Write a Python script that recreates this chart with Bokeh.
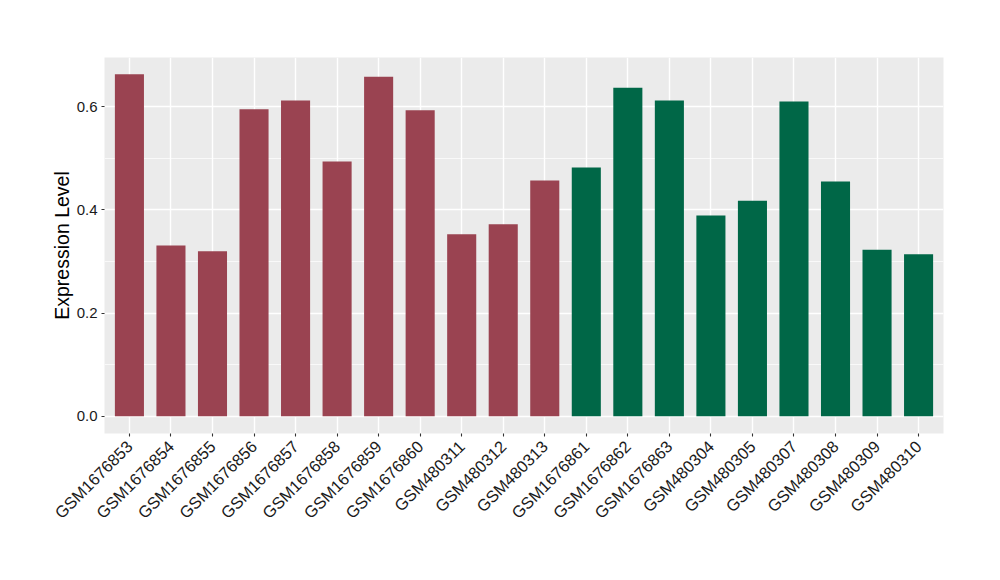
import math
from bokeh.plotting import figure
from bokeh.models import FactorRange, FixedTicker, ColumnDataSource, CustomJSTickFormatter
from bokeh.embed import file_html
from bokeh.resources import INLINE

samples = ["GSM1676853", "GSM1676854", "GSM1676855", "GSM1676856", "GSM1676857",
           "GSM1676858", "GSM1676859", "GSM1676860", "GSM480311", "GSM480312",
           "GSM480313", "GSM1676861", "GSM1676862", "GSM1676863", "GSM480304",
           "GSM480305", "GSM480307", "GSM480308", "GSM480309", "GSM480310"]
values = [0.663, 0.331, 0.320, 0.595, 0.612, 0.494, 0.658, 0.593, 0.353, 0.372,
          0.457, 0.482, 0.637, 0.612, 0.389, 0.418, 0.610, 0.455, 0.323, 0.314]
groups = ["A"] * 11 + ["B"] * 9
group_colors = {"A": "#9A4351", "B": "#006747"}
y_ticks = [0.0, 0.2, 0.4, 0.6]
y_minor = [0.1, 0.3, 0.5]

FONT = "Liberation Sans"

src = ColumnDataSource(dict(x=samples, top=values,
                            color=[group_colors[g] for g in groups]))

p = figure(width=992, height=572, output_backend="svg", toolbar_location=None,
           x_range=FactorRange(factors=samples, range_padding=0.1,
                               range_padding_units="absolute"),
           y_range=(-0.0335, 0.6955),
           min_border_left=104, min_border_right=49, min_border_top=57,
           min_border_bottom=139)
p.outline_line_color = None
p.background_fill_color = "#EBEBEB"
p.border_fill_color = "white"

p.vbar(x="x", top="top", bottom=0, width=0.7, fill_color="color",
       line_color=None, source=src)

# grids
p.xgrid.grid_line_color = "white"
p.xgrid.grid_line_width = 1.4
p.ygrid.grid_line_color = "white"
p.ygrid.grid_line_width = 1.4
p.ygrid.minor_grid_line_color = "white"
p.ygrid.minor_grid_line_width = 0.7

p.yaxis.ticker = FixedTicker(ticks=y_ticks, minor_ticks=y_minor)
p.yaxis.formatter = CustomJSTickFormatter(code="return tick.toFixed(1);")

for ax in (p.xaxis[0], p.yaxis[0]):
    ax.axis_line_color = None
    ax.major_tick_line_color = "#333333"
    ax.major_tick_line_width = 1.1
    ax.major_tick_out = 3
    ax.major_tick_in = 0
    ax.minor_tick_line_color = None
    ax.major_label_text_font = FONT
    ax.major_label_text_color = "#1a1a1a"
    ax.major_label_standoff = 3

p.yaxis.major_label_text_font_size = "15px"
p.xaxis.major_label_text_font_size = "16.5px"
p.xaxis.major_label_standoff = 7

p.yaxis.axis_label = "Expression Level"
p.yaxis.axis_label_text_font = FONT
p.yaxis.axis_label_text_font_size = "19.5px"
p.yaxis.axis_label_text_font_style = "normal"
p.yaxis.axis_label_text_color = "black"
p.yaxis.axis_label_standoff = 1

p.xaxis.major_label_orientation = math.pi / 4

open("out.html", "w").write(file_html(p, INLINE))
